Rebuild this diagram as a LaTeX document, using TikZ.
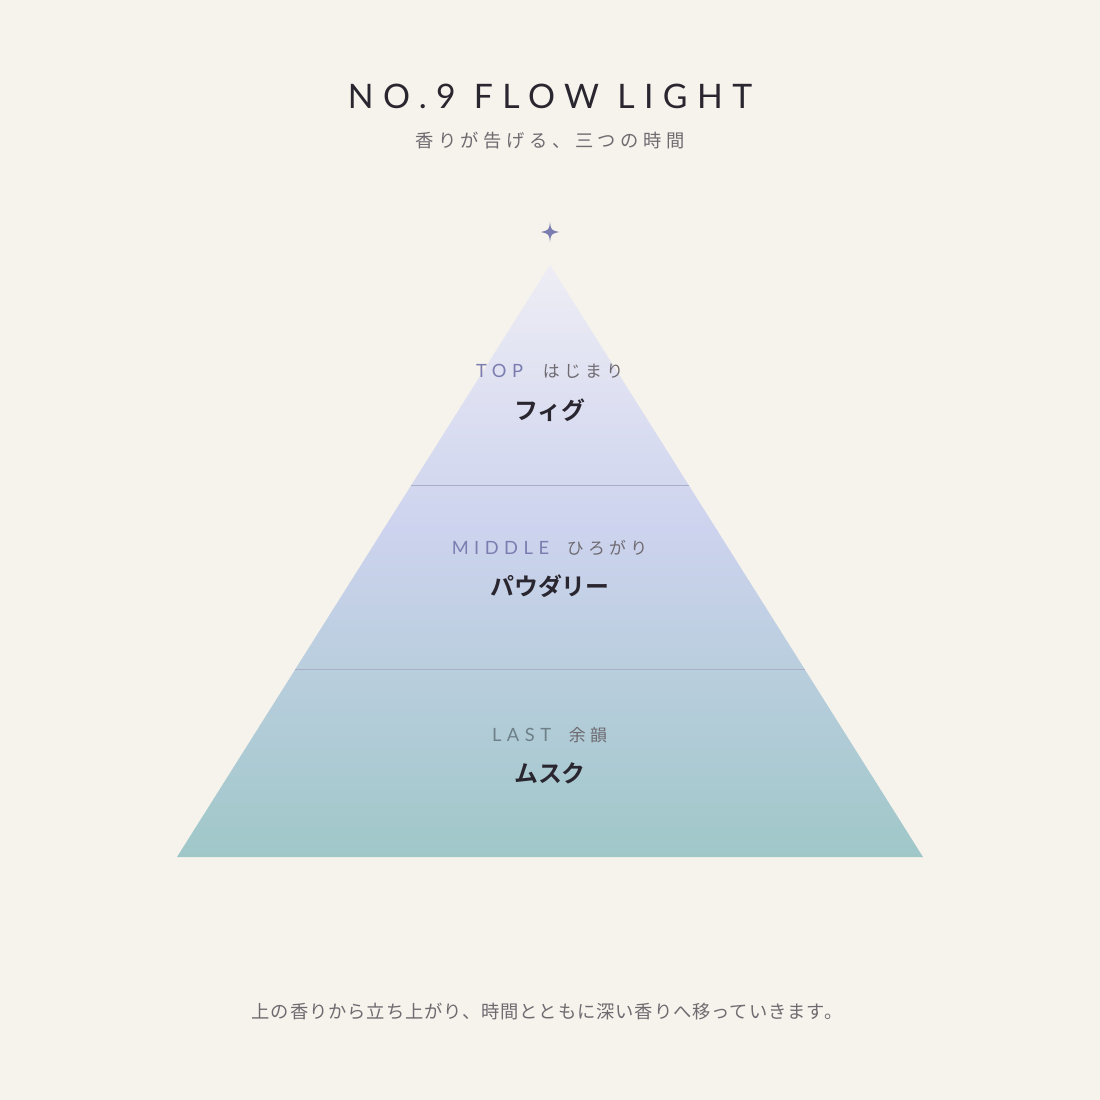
\documentclass[tikz,border=0pt]{standalone}
\usepackage{fontspec}
\setmainfont{Noto Sans CJK JP}
\newfontfamily\titlefont[LetterSpace=28]{Lato}
\newfontfamily\tagfont[LetterSpace=30]{Lato}
\newfontfamily\jpfont[LetterSpace=25]{Noto Sans CJK JP}
\newfontfamily\capfont[LetterSpace=5]{Noto Sans CJK JP}
\newfontfamily\jpbold[BoldFont={Noto Sans CJK JP Bold}]{Noto Sans CJK JP}
\definecolor{paper}{HTML}{F6F3EC}
\definecolor{ink}{HTML}{2A2630}
\definecolor{greytext}{HTML}{6E6A70}
\definecolor{lilac}{HTML}{7B7DB0}
\definecolor{slate}{HTML}{6E8088}
\definecolor{topcol}{HTML}{EEEDF5}
\definecolor{midcol}{HTML}{CDD3EE}
\definecolor{lowcol}{HTML}{9FC7C8}
\definecolor{rule}{HTML}{A8AEC4}
\begin{document}
\begin{tikzpicture}[x=0.025cm,y=-0.025cm,
  tag/.style={font=\tagfont\fontsize{13}{13}\selectfont},
  note/.style={font=\jpbold\bfseries\fontsize{17}{17}\selectfont, text=ink},
  sep/.style={draw=rule, line width=0.7pt}]
  \fill[paper] (0,0) rectangle (1100,1100);
  \useasboundingbox (0,0) rectangle (1100,1100);
  % heading
  \node[font=\titlefont\fontsize{24}{24}\selectfont, text=ink] (title) at (550,96) {NO.9 FLOW LIGHT};
  \node[font=\jpfont\fontsize{13}{13}\selectfont, text=greytext] (sub) at (550,141) {香りが告げる、三つの時間};
  % star
  \fill[lilac] (550,222) .. controls (551,230) .. (559,232) .. controls (551,234) .. (550,242)
    .. controls (549,234) .. (541,232) .. controls (549,230) .. (550,222) -- cycle;
  % pyramid
  \coordinate (apex) at (550,265);
  \coordinate (bl) at (177,857);
  \coordinate (br) at (923,857);
  \begin{scope}
    \clip (apex) -- (br) -- (bl) -- cycle;
    \shade[top color=topcol, bottom color=midcol] (170,265) rectangle (930,530);
    \shade[top color=midcol, bottom color=lowcol] (170,529) rectangle (930,858);
  \end{scope}
  \coordinate (a1) at (411,485);
  \coordinate (a2) at (689,485);
  \coordinate (b1) at (295,669);
  \coordinate (b2) at (805,669);
  \draw[sep] (a1) -- (a2);
  \draw[sep] (b1) -- (b2);
  % layers
  \node[tag, text=lilac, anchor=east] (top) at (528,371) {TOP};
  \node[font=\jpfont\fontsize{12}{12}\selectfont, text=greytext, anchor=west] (topjp) at (538,371) {はじまり};
  \node[note] (fig) at (550,410) {フィグ};
  \node[tag, text=lilac, anchor=east] (mid) at (554,548) {MIDDLE};
  \node[font=\jpfont\fontsize{12}{12}\selectfont, text=greytext, anchor=west] (midjp) at (562,548) {ひろがり};
  \node[note] (pow) at (550,586) {パウダリー};
  \node[tag, text=slate, anchor=east] (last) at (556,735) {LAST};
  \node[font=\jpfont\fontsize{12}{12}\selectfont, text=greytext, anchor=west] (lastjp) at (564,735) {余韻};
  \node[note] (musk) at (550,773) {ムスク};
  % caption
  \node[font=\capfont\fontsize{13}{13}\selectfont, text=greytext] (cap) at (547,1011)
    {上の香りから立ち上がり、時間とともに深い香りへ移っていきます。};
\end{tikzpicture}
\end{document}
